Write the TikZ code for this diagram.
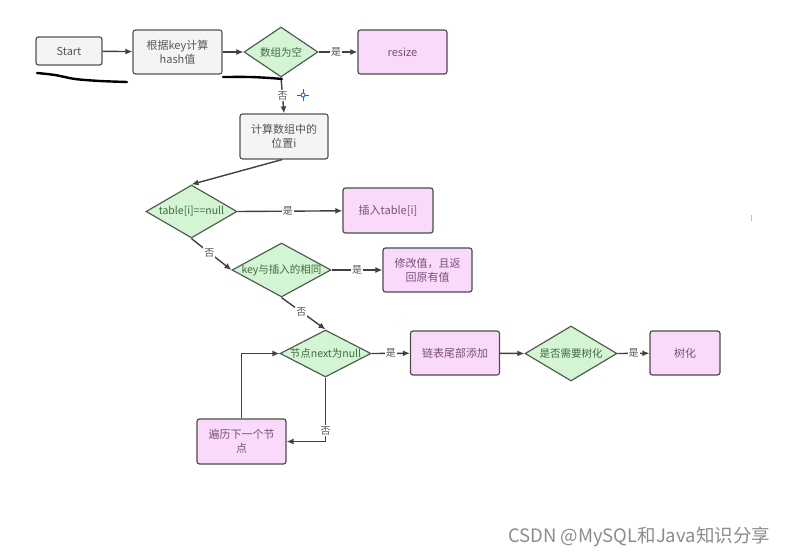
\documentclass[tikz,border=0pt]{standalone}
\usepackage{fontspec}
\setmainfont{Noto Sans CJK SC}
\usetikzlibrary{shapes.geometric,arrows.meta}
\definecolor{gfill}{HTML}{F4F4F4}
\definecolor{gline}{HTML}{555555}
\definecolor{pfill}{HTML}{FADAFA}
\definecolor{ptext}{HTML}{7A4F7A}
\definecolor{dfill}{HTML}{D4F5D4}
\definecolor{dline}{HTML}{4F5F4F}
\definecolor{dtextc}{HTML}{3F6A3F}
\definecolor{edgec}{HTML}{404040}
\definecolor{wmark}{HTML}{8C8C8C}
\tikzset{
  basebox/.style={rectangle, rounded corners=2.5pt, line width=1.2pt, inner sep=1pt, align=center, font=\fontsize{11}{14}\selectfont},
  gbox/.style={basebox, draw=gline, fill=gfill, text=gline},
  pbox/.style={basebox, draw=gline!90!black, fill=pfill, text=ptext},
  dia/.style={diamond, draw=dline, fill=dfill, line width=1.2pt, inner sep=0pt},
  dtext/.style={text=dtextc, font=\fontsize{10.5}{13}\selectfont},
  conn/.style={draw=edgec, line width=1.4pt, -{Latex[length=7pt,width=6pt]}},
  elab/.style={fill=white, text=gline, inner sep=1pt, font=\fontsize{10}{12}\selectfont},
  scrib/.style={draw=black, line width=2.4pt, line cap=round, line join=round}
}
\begin{document}
\begin{tikzpicture}[x=1pt,y=-1pt]
\useasboundingbox (0,0) rectangle (790,556);
% boxes
\node[gbox, minimum width=66pt, minimum height=28pt] (start) at (69,51) {Start};
\node[gbox, minimum width=89pt, minimum height=44pt] (hash) at (177.5,52) {根据key计算\\hash值};
\node[pbox, minimum width=89pt, minimum height=44pt] (resize) at (402.5,52) {resize};
\node[gbox, minimum width=88pt, minimum height=45pt] (calc) at (284,136.5) {计算数组中的\\位置i};
\node[pbox, minimum width=90pt, minimum height=45pt] (insert) at (388,210.5) {插入table[i]};
\node[pbox, minimum width=89pt, minimum height=44pt] (modify) at (427.5,270) {修改值，且返\\回原有值};
\node[pbox, minimum width=89pt, minimum height=44pt] (link) at (455,353) {链表尾部添加};
\node[pbox, minimum width=70pt, minimum height=44pt] (tree) at (685,353) {树化};
\node[pbox, minimum width=89pt, minimum height=45pt] (trav) at (241.5,441.5) {遍历下一个节\\点};
% diamonds
\node[dia, minimum width=74pt, minimum height=50pt] (d1) at (281,52) {};
\node[dtext] at (d1) {数组为空};
\node[dia, minimum width=91pt, minimum height=53pt] (d2) at (191.5,211.5) {};
\node[dtext] at (d2) {table[i]==null};
\node[dia, minimum width=99pt, minimum height=54pt] (d3) at (281.5,270) {};
\node[dtext] at (d3) {key与插入的相同};
\node[dia, minimum width=91pt, minimum height=47pt] (d4) at (325.5,353.5) {};
\node[dtext] at (d4) {节点next为null};
\node[dia, minimum width=92pt, minimum height=55pt] (d5) at (571,353.5) {};
\node[dtext] at (d5) {是否需要树化};
% connectors
\draw[conn] (start) -- (hash);
\draw[conn] (hash) -- (d1.west);
\draw[conn] (d1.east) -- node[elab, pos=0.45] {是} (resize);
\draw[conn] (d1.south) -- node[elab, pos=0.5] {否} (calc.north);
\draw[conn] ([xshift=-2pt]calc.south) -- (d2.north);
\draw[conn] (d2.east) -- node[elab, pos=0.48] {是} (insert);
\draw[conn] (d2.south) -- node[elab, pos=0.45] {否} (d3.west);
\draw[conn] (d3.east) -- node[elab, pos=0.5] {是} (modify);
\draw[conn] (d3.south) -- node[elab, pos=0.45] {否} (d4.north);
\draw[conn] (d4.east) -- node[elab, pos=0.5] {是} (link);
\draw[conn] (link) -- (d5.west);
\draw[conn] (d5.east) -- node[elab, pos=0.5] {是} (tree);
\draw[conn] (d4.south) -- node[elab, pos=0.83] {否} (d4.south |- trav.east) -- (trav.east);
\draw[conn] (trav.north) -- (trav.north |- d4.west) -- (d4.west);
% hand-drawn marks
\draw[scrib] plot[smooth] coordinates {(37,73) (55,75) (75,79) (100,81) (127,82)};
\draw[scrib] plot[smooth] coordinates {(223,77) (250,77) (270,78) (282,79)};
% cursor mark
\draw[blue!60!cyan, line width=0.8pt] (297,95) -- (309,95) (303,89) -- (303,101);
\draw[blue!60!cyan, line width=0.8pt, fill=white] (303,95) circle (2pt);
\draw[cyan!50, line width=0.8pt] (751,215) -- (751,221);
% watermark
\node[text=wmark, font=\fontsize{18.5}{21}\selectfont, anchor=center] (wm) at (639,537) {CSDN @MySQL和Java知识分享};
\end{tikzpicture}
\end{document}
